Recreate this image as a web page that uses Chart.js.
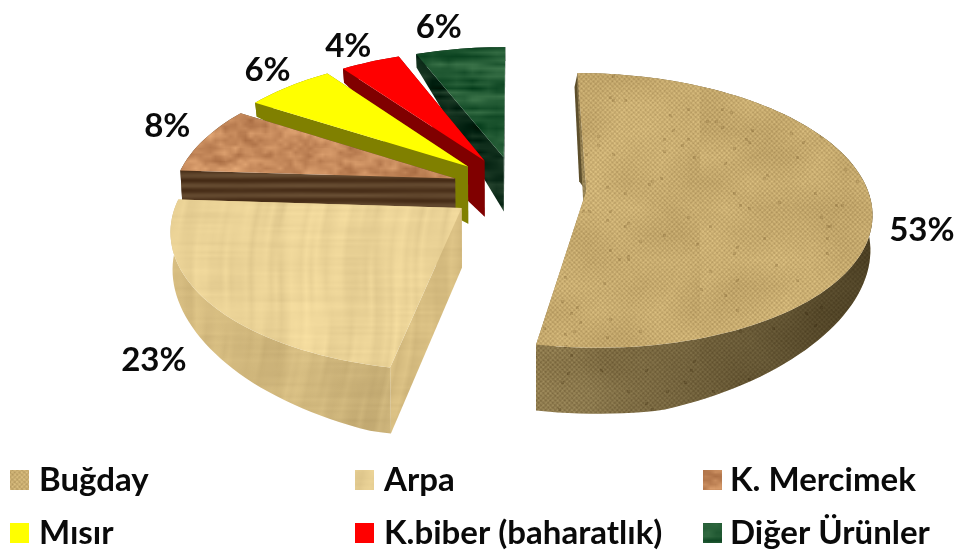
<!DOCTYPE html>
<html>
<head>
<meta charset="utf-8">
<script src="https://cdn.jsdelivr.net/npm/chart.js@4/dist/chart.umd.min.js"></script>
<style>
html, body { margin: 0; padding: 0; background: #fff; }
canvas { display: block; }
</style>
</head>
<body>
<canvas id="pie" width="957" height="551"></canvas>
<script>
// Chart data
const categories = ['Buğday', 'Arpa', 'K. Mercimek', 'Mısır', 'K.biber (baharatlık)', 'Diğer Ürünler'];
const shares = [53, 23, 8, 6, 4, 6];
const explode = [25, 24, 23, 24, 24, 24];

// Perspective of the pie floor
const FLATTEN = 0.476;
const PERSPECTIVE = 0.14;
const FONT = 'bold 33px Lato, "Open Sans", sans-serif';
const LEGEND_FONT = 'bold 33px Lato, "Open Sans", sans-serif';

function hash(x, y) {
    const s = Math.sin(x * 12.9898 + y * 78.233) * 43758.5453;
    return s - Math.floor(s);
}

function smooth(x, y, sx, sy) {
    const gx = x / sx, gy = y / sy;
    const ix = Math.floor(gx), iy = Math.floor(gy);
    const fx = gx - ix, fy = gy - iy;
    const a = hash(ix, iy), b = hash(ix + 1, iy), c = hash(ix, iy + 1), d = hash(ix + 1, iy + 1);
    return (a * (1 - fx) + b * fx) * (1 - fy) + (c * (1 - fx) + d * fx) * fy;
}

// Builds a repeating texture, fn returns a brightness shift for a pixel
function texture(base, fn) {
    const tile = document.createElement('canvas');
    tile.width = 700;
    tile.height = 460;
    const c = tile.getContext('2d');
    const img = c.createImageData(tile.width, tile.height);
    for (let y = 0; y < tile.height; y++) {
        for (let x = 0; x < tile.width; x++) {
            const k = fn(x, y), i = (y * tile.width + x) * 4;
            img.data[i] = base[0] + k;
            img.data[i + 1] = base[1] + k;
            img.data[i + 2] = base[2] + k * 0.85;
            img.data[i + 3] = 255;
        }
    }
    c.putImageData(img, 0, 0);
    return c.createPattern(tile, 'repeat');
}

const ctxPie = document.getElementById('pie').getContext('2d');

const weave = (x, y) => Math.cos(x * Math.PI * 0.42) * Math.cos(y * Math.PI * 0.42) * 15
    + (smooth(x + Math.sin(y / 23) * 15, y, 32, 26) - 0.5) * 16 + (hash(x, y) - 0.5) * 10
    - (hash(Math.floor(x / 3), Math.floor(y / 3)) > 0.99 ? 20 : 0);
const wood = (x, y) => {
    const wx = x + Math.sin(y / 31) * 4 + y * 0.1;
    return (smooth(wx, y, 5, 70) - 0.5) * 16 + (smooth(wx, y, 30, 160) - 0.5) * 12 + (smooth(x, y, 70, 3) - 0.5) * 9;
};
const speck = (x, y) => (smooth(x, y, 14, 7) - 0.5) * 44 + (smooth(x, y, 5, 4) - 0.5) * 26;
const leaf = (x, y) => (smooth(x, y, 34, 4) - 0.5) * 46 + (smooth(x, y, 8, 9) - 0.5) * 18;
const planks = (x, y) => Math.sin(y * 0.62) * 13 + (smooth(x, y, 60, 3) - 0.5) * 10;

const topFills = [
    texture([198, 170, 110], weave),
    texture([234, 210, 150], wood),
    texture([198, 138, 92], speck),
    '#FFFF00',
    '#FF0000',
    texture([32, 88, 50], leaf)
];
const wallFills = [
    texture([146, 126, 80], weave),
    texture([214, 188, 128], wood),
    texture([86, 60, 36], planks),
    '#808000',
    '#800000',
    texture([14, 44, 26], leaf)
];
// Darkening of the rounded wall, left end to right end
const wallShade = [
    [0.02, 0.55],
    [0.0, 0.06],
    [0, 0],
    [0, 0],
    [0, 0],
    [0, 0]
];

// Wall height grows quickly from the back of the floor to the middle,
// and shrinks again at the far left and right of the pie
function wallHeight(v, u) {
    if (v <= -0.7) return 14;
    let h = v <= -0.2 ? 14 + (v + 0.7) * 86 : Math.min(57 + (v + 0.2) * 8, 66);
    h *= 1 - 0.4 * Math.max(0, Math.abs(u) - 0.45) / 0.75;
    return Math.max(h, 14);
}

const pie3d = {
    id: 'pie3d',
    project(arc, u, v) {
        const f = arc.outerRadius;
        const w = 1 - PERSPECTIVE * v;
        return { x: arc.x + f * u / w, y: arc.y + f * FLATTEN * v / w, v, u };
    },
    lower(arc, p) {
        return { x: p.x + (arc.x - p.x) * 0.006, y: p.y + wallHeight(p.v, p.u) };
    },
    outline(arc, off) {
        const mid = (arc.startAngle + arc.endAngle) / 2;
        const u0 = Math.cos(mid) * off, v0 = Math.sin(mid) * off;
        const steps = Math.max(6, Math.ceil((arc.endAngle - arc.startAngle) * 30));
        const rim = [];
        for (let i = 0; i <= steps; i++) {
            const a = arc.startAngle + (arc.endAngle - arc.startAngle) * i / steps;
            rim.push(this.project(arc, u0 + Math.cos(a), v0 + Math.sin(a)));
        }
        return { apex: this.project(arc, u0, v0), rim };
    },
    fillPath(ctx, pts, fill) {
        ctx.beginPath();
        pts.forEach((p, i) => i ? ctx.lineTo(p.x, p.y) : ctx.moveTo(p.x, p.y));
        ctx.closePath();
        ctx.fillStyle = fill;
        ctx.fill();
    },
    drawSlice(ctx, arc, i) {
        const { apex, rim } = this.outline(arc, arc.options.offset / 100);
        const last = rim[rim.length - 1];
        const low = p => this.lower(arc, p);

        // strip on the straight edge that faces the left, wheat only
        if (apex.x > arc.x) {
            this.fillPath(ctx, [apex, rim[0], { x: rim[0].x - 3, y: rim[0].y + 14 }, { x: apex.x - 7, y: apex.y - 10 }], '#5d4f2c');
        }

        // both straight walls
        this.fillPath(ctx, [apex, rim[0], low(rim[0]), low(apex)], wallFills[i]);
        this.fillPath(ctx, [apex, last, low(last), low(apex)], wallFills[i]);

        // rounded wall
        const wall = rim.concat(rim.map(low).reverse());
        this.fillPath(ctx, wall, wallFills[i]);
        const xs = wall.map(p => p.x);
        const left = Math.min(...xs), right = Math.max(...xs);
        const shade = ctx.createLinearGradient(left, 0, right, 0);
        shade.addColorStop(0, `rgba(20,14,0,${wallShade[i][0]})`);
        shade.addColorStop(1, `rgba(20,14,0,${wallShade[i][1]})`);
        this.fillPath(ctx, wall, shade);

        this.fillPath(ctx, [apex].concat(rim), topFills[i]);
    },
    beforeDatasetsDraw(chart) {
        const ctx = chart.ctx;
        const arcs = chart.getDatasetMeta(0).data;
        // back slices first, the wheat and barley slices sit in front
        [5, 4, 3, 2, 1, 0].forEach(i => this.drawSlice(ctx, arcs[i], i));
        return false;
    },
    afterDraw(chart, args, opts) {
        const ctx = chart.ctx;
        const arcs = chart.getDatasetMeta(0).data;
        ctx.save();
        ctx.fillStyle = '#0a0a0a';
        ctx.textBaseline = 'middle';
        ctx.textAlign = 'center';
        ctx.font = FONT;
        arcs.forEach((arc, i) => {
            const off = arc.options.offset / 100;
            const mid = (arc.startAngle + arc.endAngle) / 2;
            const p = this.project(arc, Math.cos(mid) * (off + 1.17), Math.sin(mid) * (off + 1.17));
            ctx.fillText(shares[i] + '%', p.x + opts.labelShift[i][0], p.y + opts.labelShift[i][1]);
        });

        // legend, three even columns
        ctx.textAlign = 'left';
        ctx.textBaseline = 'alphabetic';
        ctx.font = LEGEND_FONT;
        categories.forEach((name, i) => {
            const col = i % 3, row = Math.floor(i / 3);
            const y = opts.legendY[row];
            ctx.fillStyle = topFills[i];
            ctx.fillRect(opts.swatchX[col], y - 21, 19, 20);
            ctx.fillStyle = '#0a0a0a';
            ctx.fillText(name, opts.legendX[col], y);
        });
        ctx.restore();
    }
};

new Chart(ctxPie, {
    type: 'pie',
    data: {
        labels: categories,
        datasets: [{
            data: shares,
            offset: explode,
            backgroundColor: ['#c6aa6e', '#eed698', '#c68a5c', '#FFFF00', '#FF0000', '#205832'],
            borderWidth: 0
        }]
    },
    options: {
        responsive: false,
        animation: false,
        radius: 281,
        layout: { padding: { left: 75, right: 0, top: 0, bottom: 175 } },
        plugins: {
            legend: { display: false },
            tooltip: { enabled: false },
            pie3d: {
                labelShift: [[1, 24], [-6, 41], [4, -7], [6, -4], [-5, -1], [-15, -5]],
                swatchX: [10, 355, 703],
                legendX: [39, 384, 730],
                legendY: [491, 544]
            }
        }
    },
    plugins: [pie3d]
});
</script>
</body>
</html>
